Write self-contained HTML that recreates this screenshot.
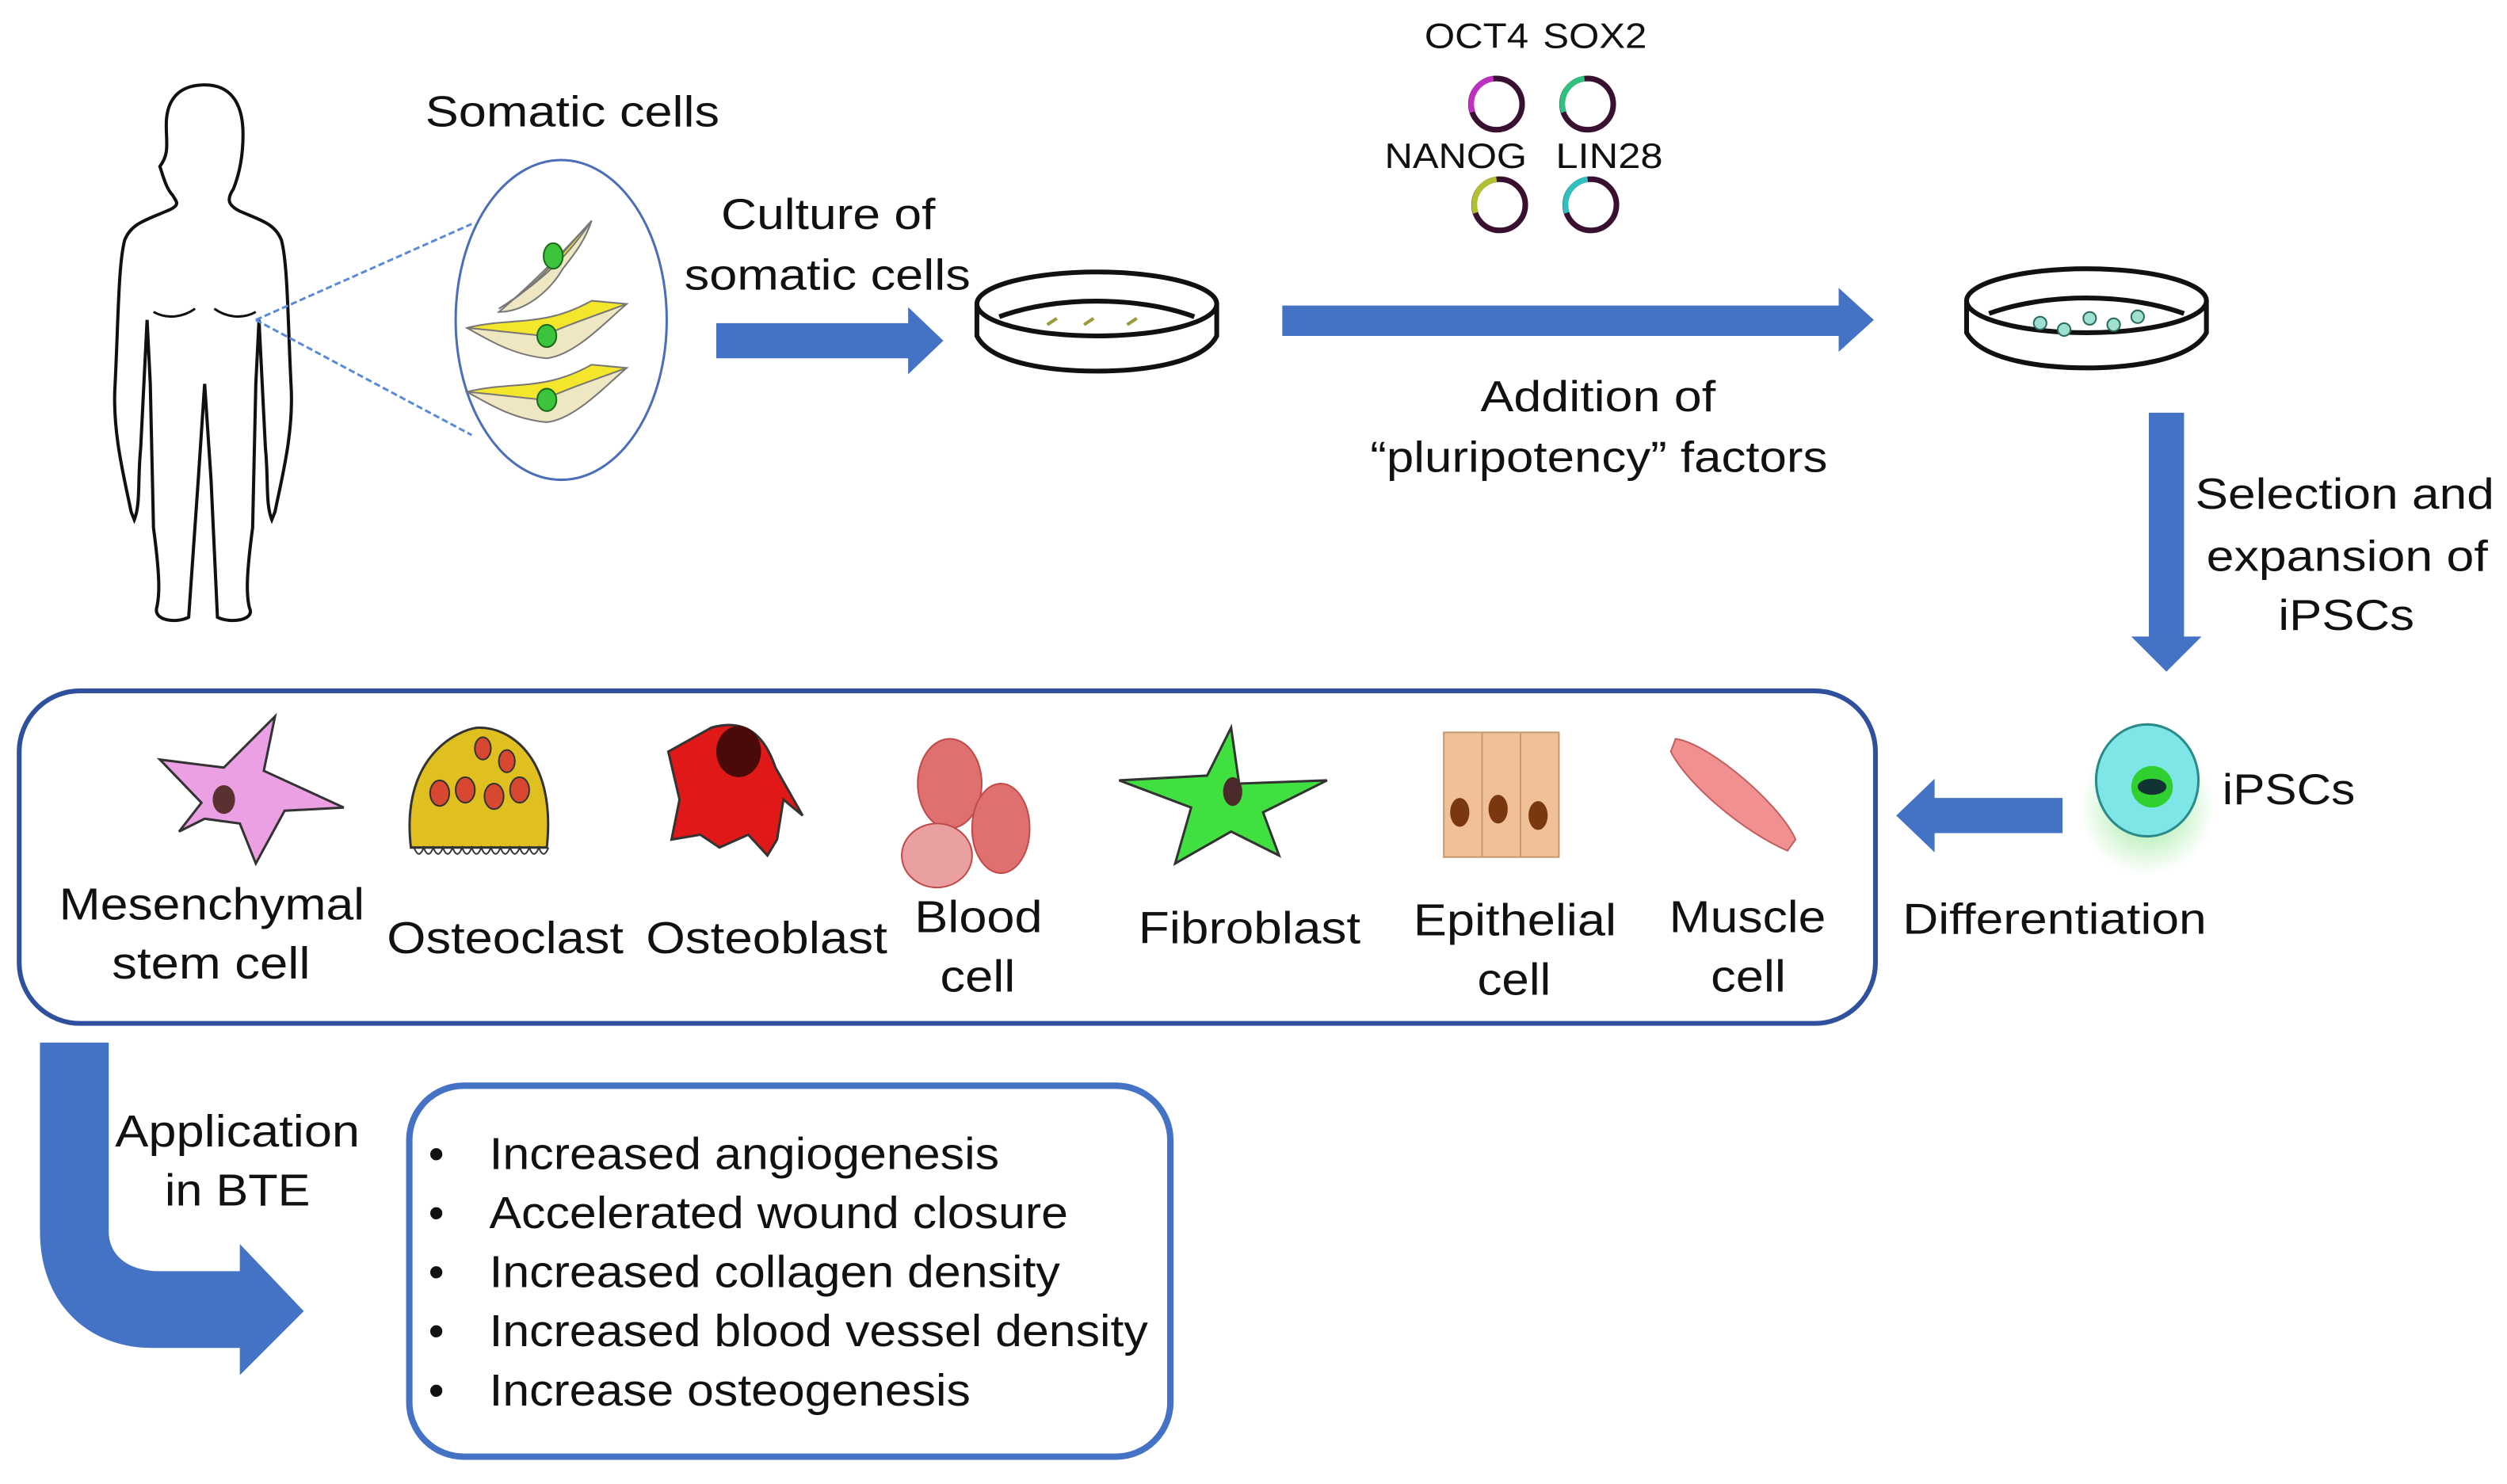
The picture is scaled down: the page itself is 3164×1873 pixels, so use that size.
<!DOCTYPE html>
<html><head><meta charset="utf-8"><style>
html,body{margin:0;padding:0;background:#fff;}
svg{display:block;}
text{font-family:"Liberation Sans",sans-serif;fill:#111;}
</style></head><body>
<svg width="3164" height="1873" viewBox="0 0 1568 928" xmlns="http://www.w3.org/2000/svg">
<defs>
<radialGradient id="glow"><stop offset="0" stop-color="#7be07b" stop-opacity="0.8"/><stop offset="1" stop-color="#7be07b" stop-opacity="0"/></radialGradient>
</defs>
<!-- human -->
<path d="M128,53 C112,53 104,62 104,78 C104,90 106,96 100,104 C102,110 104,118 108,122 C110,126 114,128 104,132 C90,138 82,140 78,150 C74,165 74,200 72,240 C70,270 78,300 82,320 L84,325 C88,315 86,300 88,280 L92,200 L94,240 L96,330 C100,360 100,372 98,380 C96,388 110,390 118,386 L124,300 L128,240 L132,300 L136,386 C144,390 160,388 156,380 C154,372 154,360 158,330 L160,240 L162,200 L166,280 C168,300 166,315 170,325 L172,320 C176,300 184,270 182,240 C180,200 180,165 176,150 C172,140 164,138 150,132 C142,128 142,124 146,118 C150,108 152,96 152,84 C152,64 144,53 128,53 Z" fill="none" stroke="#111" stroke-width="2"/>
<path d="M96,195 C105,200 115,198 122,193 M134,193 C141,198 151,200 160,195" fill="none" stroke="#111" stroke-width="1.5"/>
<line x1="160" y1="200" x2="295" y2="140" stroke="#5b8bd8" stroke-width="1.5" stroke-dasharray="4,2"/>
<line x1="160" y1="200" x2="295" y2="272" stroke="#5b8bd8" stroke-width="1.5" stroke-dasharray="4,2"/>
<ellipse cx="351" cy="200" rx="66" ry="100" fill="#fff" stroke="#4a6fb8" stroke-width="1.5"/>
<g stroke="#777" stroke-width="1">
<path d="M370,138 C350,160 330,180 312,195 C330,195 345,180 352,168 C360,158 366,150 370,138Z" fill="#efe6c2"/>
<path d="M370,138 C355,160 340,175 312,193 C335,180 350,160 370,138Z" fill="#f4e62a"/>
<path d="M292,205 C310,200 330,212 355,200 C365,195 380,190 392,190 C380,200 360,222 342,224 C320,222 305,212 292,205Z" fill="#efe6c2"/>
<path d="M292,205 C320,198 340,205 370,188 L392,190 C370,198 350,205 340,210 C320,208 305,206 292,205Z" fill="#f4e62a"/>
<path d="M292,245 C310,240 330,252 355,240 C365,235 380,230 392,230 C380,240 360,262 342,264 C320,262 305,252 292,245Z" fill="#efe6c2"/>
<path d="M292,245 C320,238 340,245 370,228 L392,230 C370,238 350,245 340,250 C320,248 305,246 292,245Z" fill="#f4e62a"/>
</g>
<g fill="#3cc43c" stroke="#1a6a1a"><ellipse cx="346" cy="160" rx="6" ry="8"/><ellipse cx="342" cy="210" rx="6" ry="7"/><ellipse cx="342" cy="250" rx="6" ry="7"/></g>
<g font-size="27" lengthAdjust="spacingAndGlyphs">
<text x="266" y="79" textLength="184" lengthAdjust="spacingAndGlyphs">Somatic cells</text>
<text x="451" y="143" textLength="134" lengthAdjust="spacingAndGlyphs">Culture of</text>
<text x="428" y="181" textLength="179" lengthAdjust="spacingAndGlyphs">somatic cells</text>
<text x="926" y="257" textLength="147" lengthAdjust="spacingAndGlyphs">Addition of</text>
<text x="857" y="295" textLength="286" lengthAdjust="spacingAndGlyphs">“pluripotency” factors</text>
<text x="1373" y="318" textLength="187" lengthAdjust="spacingAndGlyphs">Selection and</text>
<text x="1380" y="357" textLength="176" lengthAdjust="spacingAndGlyphs">expansion of</text>
<text x="1425" y="394" textLength="85" lengthAdjust="spacingAndGlyphs">iPSCs</text>
<text x="1390" y="503" textLength="83" lengthAdjust="spacingAndGlyphs">iPSCs</text>
<text x="1190" y="584" textLength="190" lengthAdjust="spacingAndGlyphs">Differentiation</text>
</g>
<polygon points="448,202 568,202 568,192 590,213 568,234 568,224 448,224" fill="#4472c4"/>
<g fill="none" stroke="#111" stroke-width="3"><ellipse cx="686" cy="190" rx="75" ry="20"/><path d="M611,190 L611,210 C620,228 660,232 686,232 C712,232 752,228 761,210 L761,190"/><path d="M625,198 C660,185 712,185 747,198"/></g>
<g stroke="#9a9a3a" stroke-width="2"><path d="M655,203 l6,-4 M678,203 l6,-4 M705,203 l6,-4"/></g>
<polygon points="802,191 1150,191 1150,180 1172,200 1150,220 1150,210 802,210" fill="#4472c4"/>
<g font-size="22">
<text x="891" y="30" textLength="65" lengthAdjust="spacingAndGlyphs">OCT4</text>
<text x="965" y="30" textLength="65" lengthAdjust="spacingAndGlyphs">SOX2</text>
<text x="866" y="105" textLength="89" lengthAdjust="spacingAndGlyphs">NANOG</text>
<text x="973" y="105" textLength="67" lengthAdjust="spacingAndGlyphs">LIN28</text>
</g>
<g fill="none" stroke-width="3.5">
<circle cx="936" cy="65" r="16" stroke="#3a1030"/><path d="M921,70 A16,16 0 0 1 934,49" stroke="#c030c0"/>
<circle cx="993" cy="65" r="16" stroke="#3a1030"/><path d="M978,70 A16,16 0 0 1 991,49" stroke="#30c080"/>
<circle cx="938" cy="128" r="16" stroke="#3a1030"/><path d="M923,133 A16,16 0 0 1 936,112" stroke="#b0c030"/>
<circle cx="995" cy="128" r="16" stroke="#3a1030"/><path d="M980,133 A16,16 0 0 1 993,112" stroke="#30c0c0"/>
</g>
<g fill="none" stroke="#111" stroke-width="3"><ellipse cx="1305" cy="188" rx="75" ry="20"/><path d="M1230,188 L1230,208 C1240,226 1280,230 1305,230 C1330,230 1370,226 1380,208 L1380,188"/><path d="M1244,196 C1280,183 1330,183 1366,196"/></g>
<g fill="#9ee0d0" stroke="#2a6a5a"><circle cx="1276" cy="202" r="4"/><circle cx="1291" cy="206" r="4"/><circle cx="1307" cy="199" r="4"/><circle cx="1322" cy="203" r="4"/><circle cx="1337" cy="198" r="4"/></g>
<polygon points="1344,258 1366,258 1366,398 1377,398 1355,420 1333,398 1344,398" fill="#4472c4"/>
<circle cx="1343" cy="505" r="42" fill="url(#glow)"/>
<ellipse cx="1343" cy="488" rx="32" ry="35" fill="#7ee6e6" stroke="#2a8a8a" stroke-width="1.5"/>
<circle cx="1346" cy="492" r="13" fill="#2fd02f"/><ellipse cx="1346" cy="492" rx="9" ry="5" fill="#133"/>
<polygon points="1290,499 1210,499 1210,487 1186,510 1210,533 1210,521 1290,521" fill="#4472c4"/>
<rect x="12" y="432" width="1161" height="208" rx="38" fill="none" stroke="#2f509c" stroke-width="3"/>
<path d="M172,448 L165,482 L215,505 L178,507 L160,540 L150,515 L128,512 L112,520 L126,502 L100,475 L140,480 Z" fill="#eaa0e2" stroke="#333" stroke-width="1.5"/>
<ellipse cx="140" cy="500" rx="7" ry="9" fill="#5a3030"/>
<path d="M257,530 C250,470 290,455 300,455 C320,455 348,475 342,530 Z" fill="#e0c020" stroke="#333" stroke-width="1.5"/>
<path d="M259,530 q3,8 6,0 q3,8 6,0 q3,8 6,0 q3,8 6,0 q3,8 6,0 q3,8 6,0 q3,8 6,0 q3,8 6,0 q3,8 6,0 q3,8 6,0 q3,8 6,0 q3,8 6,0 q3,8 6,0 q3,8 6,0" fill="none" stroke="#333"/>
<g fill="#d84830" stroke="#333"><ellipse cx="302" cy="468" rx="5" ry="7"/><ellipse cx="317" cy="476" rx="5" ry="7"/><ellipse cx="275" cy="496" rx="6" ry="8"/><ellipse cx="291" cy="494" rx="6" ry="8"/><ellipse cx="309" cy="498" rx="6" ry="8"/><ellipse cx="325" cy="494" rx="6" ry="8"/></g>
<path d="M445,455 C470,448 480,465 485,480 L502,510 L490,500 L486,525 L480,535 L468,522 L450,530 L438,522 L420,525 L425,500 L418,470 Z" fill="#e01818" stroke="#333" stroke-width="1.5"/>
<ellipse cx="462" cy="470" rx="14" ry="16" fill="#4a0a0a"/>
<g fill="#e07070" stroke="#c04a4a"><ellipse cx="594" cy="490" rx="20" ry="28"/><ellipse cx="626" cy="518" rx="18" ry="28"/><ellipse cx="586" cy="535" rx="22" ry="20" fill="#eaa0a0"/></g>
<path d="M770,455 L775,490 L830,488 L790,508 L800,535 L770,520 L735,540 L745,505 L700,488 L755,485 Z" fill="#40e040" stroke="#333" stroke-width="1.5"/>
<ellipse cx="771" cy="495" rx="6" ry="9" fill="#4a2a2a"/>
<rect x="903" y="458" width="72" height="78" fill="#f0c098" stroke="#c89870"/>
<path d="M927,458 V536 M951,458 V536" stroke="#c89870"/>
<g fill="#7a3810"><ellipse cx="913" cy="508" rx="6" ry="9"/><ellipse cx="937" cy="506" rx="6" ry="9"/><ellipse cx="962" cy="510" rx="6" ry="9"/></g>
<path d="M1048,462 C1070,465 1115,505 1123,525 L1118,532 C1090,520 1055,490 1045,470 Z" fill="#f09090" stroke="#c06060"/>
<g font-size="28">
<text x="37" y="575" textLength="191" lengthAdjust="spacingAndGlyphs">Mesenchymal</text>
<text x="70" y="612" textLength="124" lengthAdjust="spacingAndGlyphs">stem cell</text>
<text x="242" y="596" textLength="148" lengthAdjust="spacingAndGlyphs">Osteoclast</text>
<text x="404" y="596" textLength="151" lengthAdjust="spacingAndGlyphs">Osteoblast</text>
<text x="572" y="583" textLength="80" lengthAdjust="spacingAndGlyphs">Blood</text>
<text x="588" y="620" textLength="47" lengthAdjust="spacingAndGlyphs">cell</text>
<text x="712" y="590" textLength="139" lengthAdjust="spacingAndGlyphs">Fibroblast</text>
<text x="884" y="585" textLength="127" lengthAdjust="spacingAndGlyphs">Epithelial</text>
<text x="924" y="622" textLength="46" lengthAdjust="spacingAndGlyphs">cell</text>
<text x="1044" y="583" textLength="98" lengthAdjust="spacingAndGlyphs">Muscle</text>
<text x="1070" y="620" textLength="47" lengthAdjust="spacingAndGlyphs">cell</text>
<text x="72" y="717" textLength="153" lengthAdjust="spacingAndGlyphs">Application</text>
<text x="103" y="754" textLength="91" lengthAdjust="spacingAndGlyphs">in BTE</text>
</g>
<path d="M25,652 L68,652 L68,770 C68,785 80,795 100,795 L150,795 L150,778 L190,820 L150,860 L150,843 L95,843 C55,843 25,815 25,770 Z" fill="#4472c4"/>
<rect x="256" y="679" width="476" height="232" rx="34" fill="none" stroke="#4472c4" stroke-width="4"/>
<g font-size="28">
<text x="268" y="731">•</text><text x="306" y="731" textLength="319" lengthAdjust="spacingAndGlyphs">Increased angiogenesis</text>
<text x="268" y="768">•</text><text x="306" y="768" textLength="362" lengthAdjust="spacingAndGlyphs">Accelerated wound closure</text>
<text x="268" y="805">•</text><text x="306" y="805" textLength="357" lengthAdjust="spacingAndGlyphs">Increased collagen density</text>
<text x="268" y="842">•</text><text x="306" y="842" textLength="412" lengthAdjust="spacingAndGlyphs">Increased blood vessel density</text>
<text x="268" y="879">•</text><text x="306" y="879" textLength="301" lengthAdjust="spacingAndGlyphs">Increase osteogenesis</text>
</g>
</svg>
</body></html>
